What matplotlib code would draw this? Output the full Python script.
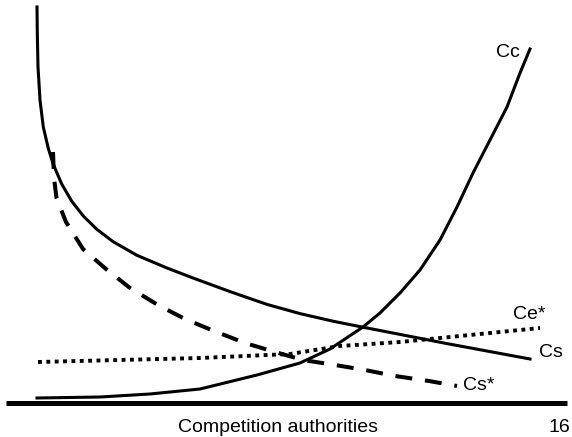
import matplotlib
matplotlib.use('Agg')
import matplotlib.pyplot as plt

plt.rcParams['font.family'] = ['Liberation Sans', 'DejaVu Sans']

# Cs: solid, falling curve
cs_x = [0, 0.06, 0.2, 0.6, 1.26, 2.26, 3.26, 4.94, 6.94, 9.26, 11.94, 15.2, 19.94, 26, 31.2, 38.6,
        46, 52.6, 59.2, 65.2, 72.6, 82, 98.6]
cs_y = [98.75, 92.25, 83.75, 75.5, 68.75, 63.4, 59.4, 54.5, 50.2, 46.5, 43.2, 40.1, 36.7, 33.5,
        31, 27.6, 24.4, 22.1, 20.2, 18.7, 16.9, 14.6, 10.75]

# Cs*: dashed, falling curve
css_x = [3.2, 3.4, 3.9, 5.8, 9.2, 13.8, 18.6, 24.2, 29.6, 35.4, 41.6, 47.6, 53.2, 59.6, 65.6, 71.6, 78.4, 84]
css_y = [62.5, 56, 51, 45, 38.25, 33.25, 28.5, 24.25, 20.75, 17.75, 14.75, 12.5, 10.5, 9.25, 8, 6.5, 5.25, 4]

# Ce*: dotted, slowly rising
ce_x = [0.2, 32.6, 50.6, 60.6, 72.6, 84.6, 100.6]
ce_y = [10, 11, 12, 14, 15, 16.5, 18.5]

# Cc: solid, rising curve
cc_x = [0, 12.6, 22.6, 32.6, 44, 52.6, 58.6, 65.2, 68.6, 72.6, 76.6, 80.6, 84, 87.2, 90.6, 94, 96.6, 98.6]
cc_y = [1, 1.25, 2, 3.25, 6.75, 9.75, 13.25, 18.75, 22.25, 27.25, 33, 40.5, 48.75, 57.25, 65.5, 73.75,
        82.25, 88.25]

fig = plt.figure(figsize=(5.72, 4.37), dpi=100)
ax = fig.add_axes([0, 0, 1, 1])
ax.set_xlim(-7.4, 107)
ax.set_ylim(-8.75, 100.5)
ax.axis('off')

# horizontal axis line
ax.plot([-6.2, 106], [-0.25, -0.25], color='black', lw=3.6, solid_capstyle='butt')

ax.plot(cs_x, cs_y, color='black', lw=2.2, solid_joinstyle='round')
ax.plot(cc_x, cc_y, color='black', lw=2.2, solid_joinstyle='round')
ax.plot(css_x, css_y, color='black', lw=2.9, linestyle=(0, (4.2, 3.2)), dash_capstyle='butt')
ax.plot(ce_x, ce_y, color='black', lw=2.8, linestyle=(0, (1, 1.15)), dash_capstyle='butt')

fs = 14
ax.text(91.8, 86.25, 'Cc', fontsize=fs, va='baseline')
ax.text(95.2, 20.75, 'Ce*', fontsize=fs, va='baseline')
ax.text(100.4, 11.25, 'Cs', fontsize=fs, va='baseline')
ax.text(85.2, 3, 'Cs*', fontsize=fs, va='baseline')

ax.text(28.2, -7.5, 'Competition authorities', fontsize=14, va='baseline')
ax.text(106.6, -7.5, '16', fontsize=14, va='baseline', ha='right')

fig.savefig('out.png', dpi=100)
